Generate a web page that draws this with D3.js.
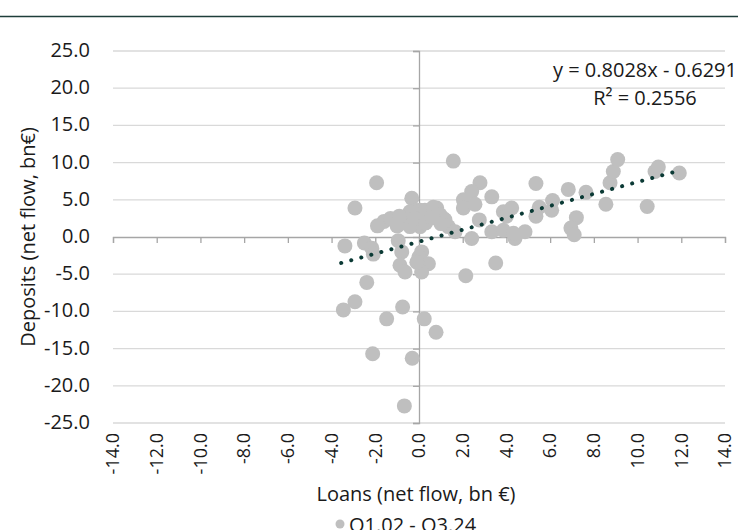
<!DOCTYPE html>
<html>
<head>
<meta charset="utf-8">
<script src="https://cdn.jsdelivr.net/npm/d3@7"></script>
<style>
  html, body { margin: 0; padding: 0; background: #ffffff; }
  svg { display: block; font-family: "Open Sans", "Noto Sans", sans-serif; }
</style>
</head>
<body>
<svg id="chart" width="738" height="530"></svg>
<script>
// Quarterly net flows, Q1.02 - Q3.24 (bn €)
const loans = [
  -3.46, -2.93, -2.39, -3.39, -2.93, -1.94, -2.50, -2.16, -2.09, -1.90,
  -1.60, -1.30, -0.95, -0.79, -0.87, -0.64, -0.75, -1.48, 0.24, 0.78,
  -2.12, -0.31, -0.67, -0.33, -0.18, -0.56, -0.87, -0.41, 0.05, 0.50,
  0.81, 1.11, 1.34, 0.05, -0.41, 0.12, 0.43, 0.12, 1.19, 1.65,
  1.57, 2.79, 2.41, 2.03, 2.03, 2.56, 3.33, 3.86, 4.24, 2.76,
  3.33, 2.41, 4.39, 3.86, 4.32, 4.85, 3.51, 2.14, 5.35, 5.35,
  5.50, 6.11, 6.07, 6.83, 7.64, 7.20, 6.95, 7.10, 8.55, 8.74,
  8.89, 9.09, 10.44, 10.80, 10.95, 11.91, 4.00, 0.27, 0.65, 0.96,
  -0.20, 0.30, 0.60, -1.00, 0.00, -0.10, -0.90, 1.00
];
const deposits = [
  -9.8, -8.7, -6.1, -1.2, 3.9, 7.3, -0.8, -1.5, -2.3, 1.5,
  2.1, 2.5, -0.5, -2.0, -3.8, -4.7, -9.4, -11.0, -11.0, -12.8,
  -15.7, -16.3, -22.7, 5.2, 3.6, 2.3, 1.8, 3.4, 3.6, 3.4,
  3.9, 2.5, 1.4, 1.4, 1.4, -2.0, -3.6, -4.7, 2.3, 0.7,
  10.2, 7.3, 6.1, 5.0, 3.9, 4.4, 5.4, 3.4, 3.9, 2.3,
  0.7, -0.2, -0.2, 0.9, 0.5, 0.7, -3.5, -5.2, 7.2, 2.8,
  4.0, 4.9, 3.6, 6.4, 6.0, 2.6, 1.2, 0.3, 4.4, 7.3,
  8.8, 10.4, 4.1, 8.8, 9.4, 8.6, 2.8, 3.6, 4.0, 3.0,
  2.5, 1.9, 2.6, 1.5, -2.7, -3.4, 2.8, 1.8
];
// Linear trend reported with the chart
const trendSlope = 0.8028;
const trendIntercept = -0.6291;
const trendLabel = "y = 0.8028x - 0.6291";
const r2Label = "R² = 0.2556";

const xTickValues = [-14, -12, -10, -8, -6, -4, -2, 0, 2, 4, 6, 8, 10, 12, 14];
const yTickValues = [-25, -20, -15, -10, -5, 0, 5, 10, 15, 20, 25];
const xTitle = "Loans (net flow, bn €)";
const yTitle = "Deposits (net flow, bn€)";
const seriesName = "Q1.02 - Q3.24";

const svg = d3.select("#chart");
const plot = { left: 113, right: 725, top: 51, bottom: 423 };

const x = d3.scaleLinear().domain([-14, 14]).range([plot.left, plot.right]);
const y = d3.scaleLinear().domain([-25, 25]).range([plot.bottom, plot.top]);

// one decimal, plain hyphen for negatives
const fmt = d => d.toFixed(1);
const pointColor = "#bfbfbf";
const trendColor = "#0b3a35";
const axisColor = "#a6a6a6";
const gridColor = "#d9d9d9";
const textColor = "#1a1a1a";

// Top rule
svg.append("line")
  .attr("x1", 0).attr("x2", 738).attr("y1", 16.5).attr("y2", 16.5)
  .attr("stroke", "#1e3d3a").attr("stroke-width", 1.5);

// Horizontal gridlines
svg.append("g")
  .selectAll("line")
  .data(yTickValues.filter(v => v !== 0))
  .join("line")
  .attr("x1", plot.left).attr("x2", plot.right)
  .attr("y1", d => y(d)).attr("y2", d => y(d))
  .attr("stroke", gridColor).attr("stroke-width", 1.3);

// Axes crossing at the origin
const xAxis = d3.axisBottom(x).tickValues(xTickValues).tickSize(6).tickFormat("");
const yAxis = d3.axisLeft(y).tickValues(yTickValues).tickSize(6).tickFormat("");

const gx = svg.append("g").attr("transform", `translate(0,${y(0)})`).call(xAxis);
const gy = svg.append("g").attr("transform", `translate(${x(0)},0)`).call(yAxis);
[gx, gy].forEach(g => {
  g.select(".domain").attr("stroke", axisColor).attr("stroke-width", 1.3);
  g.selectAll(".tick line").attr("stroke", axisColor).attr("stroke-width", 1.3);
});

// Tick labels at the plot edges
svg.append("g")
  .selectAll("text")
  .data(yTickValues)
  .join("text")
  .attr("x", 90)
  .attr("y", d => y(d))
  .attr("dy", "0.3em")
  .attr("text-anchor", "end")
  .attr("font-size", 20)
  .attr("fill", textColor)
  .text(d => fmt(d));

svg.append("g")
  .selectAll("text")
  .data(xTickValues)
  .join("text")
  .attr("transform", d => `translate(${x(d)},433) rotate(-90)`)
  .attr("dy", "0.35em")
  .attr("text-anchor", "end")
  .attr("font-size", 18)
  .attr("fill", textColor)
  .text(d => fmt(d));

// Axis titles
svg.append("text")
  .attr("x", 416).attr("y", 501)
  .attr("text-anchor", "middle")
  .attr("font-size", 20)
  .attr("fill", textColor)
  .text(xTitle);

svg.append("text")
  .attr("transform", `translate(35,237) rotate(-90)`)
  .attr("text-anchor", "middle")
  .attr("font-size", 20)
  .attr("fill", textColor)
  .text(yTitle);

// Scatter points
const points = loans.map((v, i) => ({ x: v, y: deposits[i] }));
svg.append("g")
  .selectAll("circle")
  .data(points)
  .join("circle")
  .attr("cx", d => x(d.x))
  .attr("cy", d => y(d.y))
  .attr("r", 7.5)
  .attr("fill", pointColor);

// Trendline over the span of the data
const [xMin, xMax] = d3.extent(loans);
const trend = [xMin - 0.1, xMax].map(v => ({ x: v, y: trendSlope * v + trendIntercept }));
svg.append("path")
  .datum(trend)
  .attr("d", d3.line().x(d => x(d.x)).y(d => y(d.y)))
  .attr("fill", "none")
  .attr("stroke", trendColor)
  .attr("stroke-width", 4)
  .attr("stroke-linecap", "round")
  .attr("stroke-dasharray", "0.1 10.3");

// Trend equation
svg.append("text")
  .attr("x", 737).attr("y", 77)
  .attr("text-anchor", "end")
  .attr("font-size", 20)
  .attr("fill", textColor)
  .text(trendLabel);
svg.append("text")
  .attr("x", 645).attr("y", 105)
  .attr("text-anchor", "middle")
  .attr("font-size", 20)
  .attr("fill", textColor)
  .text(r2Label);

// Legend
svg.append("circle")
  .attr("cx", 340).attr("cy", 524).attr("r", 4.5)
  .attr("fill", pointColor);
svg.append("text")
  .attr("x", 349).attr("y", 532)
  .attr("font-size", 20)
  .attr("fill", textColor)
  .text(seriesName);
</script>
</body>
</html>
